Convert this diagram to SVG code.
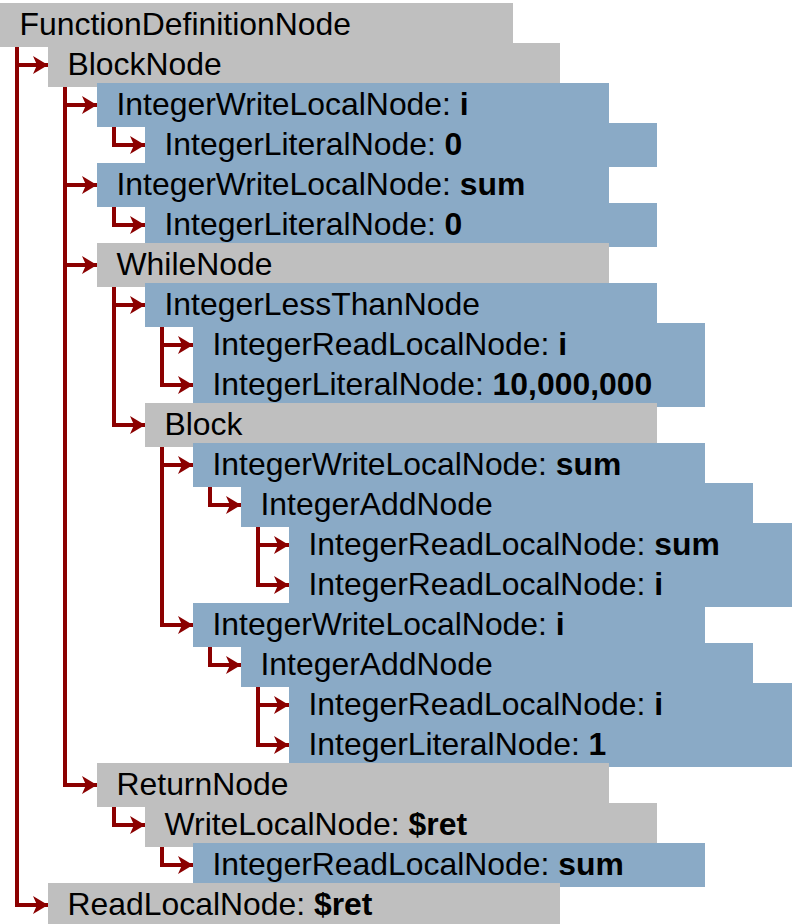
<svg xmlns="http://www.w3.org/2000/svg" width="792" height="924" viewBox="0 0 792 924">
<style>
.g{fill:#BFBFBF}
.b{fill:#8AAAC6}
text{font-family:"Liberation Sans",Arial,sans-serif;font-size:31.9px;fill:#000}
.v{font-weight:bold}
.c{fill:none;stroke:#8B0000;stroke-width:4;stroke-linejoin:miter}
</style>
<defs>
<marker id="ah" markerUnits="userSpaceOnUse" markerWidth="18" markerHeight="20" viewBox="0 -10 16 20" refX="15" refY="0" orient="auto">
<path d="M0,-9 L15,0 L0,9 L4,0 Z" fill="#8B0000"/>
</marker>
</defs>
<g id="n0"><rect class="g" x="0" y="3" width="513" height="44"/><text x="19.5" y="35">FunctionDefinitionNode</text></g>
<g id="n1"><rect class="g" x="48" y="43" width="512" height="44"/><text x="67.5" y="75">BlockNode</text></g>
<g id="n2"><rect class="b" x="97" y="83" width="512" height="44"/><text x="116.5" y="115">IntegerWriteLocalNode: <tspan class="v">i</tspan></text></g>
<g id="n3"><rect class="b" x="145" y="123" width="512" height="44"/><text x="164.5" y="155">IntegerLiteralNode: <tspan class="v">0</tspan></text></g>
<g id="n4"><rect class="b" x="97" y="163" width="512" height="44"/><text x="116.5" y="195">IntegerWriteLocalNode: <tspan class="v">sum</tspan></text></g>
<g id="n5"><rect class="b" x="145" y="203" width="512" height="44"/><text x="164.5" y="235">IntegerLiteralNode: <tspan class="v">0</tspan></text></g>
<g id="n6"><rect class="g" x="97" y="243" width="512" height="44"/><text x="116.5" y="275">WhileNode</text></g>
<g id="n7"><rect class="b" x="145" y="283" width="512" height="44"/><text x="164.5" y="315">IntegerLessThanNode</text></g>
<g id="n8"><rect class="b" x="193" y="323" width="512" height="44"/><text x="212.5" y="355">IntegerReadLocalNode: <tspan class="v">i</tspan></text></g>
<g id="n9"><rect class="b" x="193" y="363" width="512" height="44"/><text x="212.5" y="395">IntegerLiteralNode: <tspan class="v">10,000,000</tspan></text></g>
<g id="n10"><rect class="g" x="145" y="403" width="512" height="44"/><text x="164.5" y="435">Block</text></g>
<g id="n11"><rect class="b" x="193" y="443" width="512" height="44"/><text x="212.5" y="475">IntegerWriteLocalNode: <tspan class="v">sum</tspan></text></g>
<g id="n12"><rect class="b" x="241" y="483" width="512" height="44"/><text x="260.5" y="515">IntegerAddNode</text></g>
<g id="n13"><rect class="b" x="289" y="523" width="512" height="44"/><text x="308.5" y="555">IntegerReadLocalNode: <tspan class="v">sum</tspan></text></g>
<g id="n14"><rect class="b" x="289" y="563" width="512" height="44"/><text x="308.5" y="595">IntegerReadLocalNode: <tspan class="v">i</tspan></text></g>
<g id="n15"><rect class="b" x="193" y="603" width="512" height="44"/><text x="212.5" y="635">IntegerWriteLocalNode: <tspan class="v">i</tspan></text></g>
<g id="n16"><rect class="b" x="241" y="643" width="512" height="44"/><text x="260.5" y="675">IntegerAddNode</text></g>
<g id="n17"><rect class="b" x="289" y="683" width="512" height="44"/><text x="308.5" y="715">IntegerReadLocalNode: <tspan class="v">i</tspan></text></g>
<g id="n18"><rect class="b" x="289" y="723" width="512" height="44"/><text x="308.5" y="755">IntegerLiteralNode: <tspan class="v">1</tspan></text></g>
<g id="n19"><rect class="g" x="97" y="763" width="512" height="44"/><text x="116.5" y="795">ReturnNode</text></g>
<g id="n20"><rect class="g" x="145" y="803" width="512" height="44"/><text x="164.5" y="835">WriteLocalNode: <tspan class="v">$ret</tspan></text></g>
<g id="n21"><rect class="b" x="193" y="843" width="512" height="44"/><text x="212.5" y="875">IntegerReadLocalNode: <tspan class="v">sum</tspan></text></g>
<g id="n22"><rect class="g" x="48" y="883" width="512" height="44"/><text x="67.5" y="915">ReadLocalNode: <tspan class="v">$ret</tspan></text></g>
<g id="connectors">
<path class="c" marker-end="url(#ah)" d="M17,47 V65 H48"/>
<path class="c" marker-end="url(#ah)" d="M17,47 V905 H48"/>
<path class="c" marker-end="url(#ah)" d="M65,87 V105 H97"/>
<path class="c" marker-end="url(#ah)" d="M65,87 V185 H97"/>
<path class="c" marker-end="url(#ah)" d="M65,87 V265 H97"/>
<path class="c" marker-end="url(#ah)" d="M65,87 V785 H97"/>
<path class="c" marker-end="url(#ah)" d="M114,127 V145 H145"/>
<path class="c" marker-end="url(#ah)" d="M114,207 V225 H145"/>
<path class="c" marker-end="url(#ah)" d="M114,287 V305 H145"/>
<path class="c" marker-end="url(#ah)" d="M114,287 V425 H145"/>
<path class="c" marker-end="url(#ah)" d="M162,327 V345 H193"/>
<path class="c" marker-end="url(#ah)" d="M162,327 V385 H193"/>
<path class="c" marker-end="url(#ah)" d="M162,447 V465 H193"/>
<path class="c" marker-end="url(#ah)" d="M162,447 V625 H193"/>
<path class="c" marker-end="url(#ah)" d="M210,487 V505 H241"/>
<path class="c" marker-end="url(#ah)" d="M258,527 V545 H289"/>
<path class="c" marker-end="url(#ah)" d="M258,527 V585 H289"/>
<path class="c" marker-end="url(#ah)" d="M210,647 V665 H241"/>
<path class="c" marker-end="url(#ah)" d="M258,687 V705 H289"/>
<path class="c" marker-end="url(#ah)" d="M258,687 V745 H289"/>
<path class="c" marker-end="url(#ah)" d="M114,807 V825 H145"/>
<path class="c" marker-end="url(#ah)" d="M162,847 V865 H193"/>
</g>
</svg>
